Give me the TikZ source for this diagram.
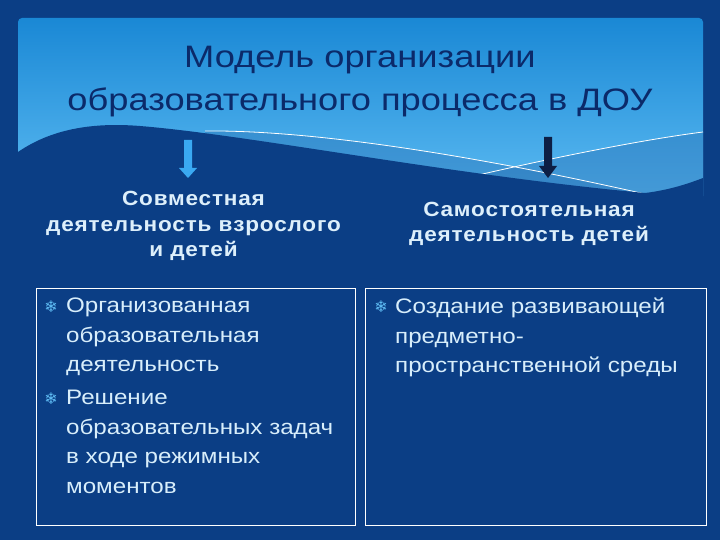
\documentclass[tikz,border=0pt]{standalone}
\usepackage{fontspec}
\setmainfont{Liberation Sans}[FakeStretch=1.15]
\newfontfamily\titlef{Liberation Sans}[FakeStretch=1.17]
\newfontfamily\headf{Liberation Sans}[LetterSpace=4, FakeStretch=1.10]
\newfontfamily\symf{DejaVu Sans}
\definecolor{cBg}{HTML}{0B3E85}
\definecolor{cPanelTop}{HTML}{1A88D5}
\definecolor{cPanelBot}{HTML}{5CBBF2}
\definecolor{cMid}{HTML}{2A74B8}
\definecolor{cTitle}{HTML}{0B2A6A}
\definecolor{cHead}{HTML}{DDEFFB}
\definecolor{cBul}{HTML}{D8EEFB}
\definecolor{cSym}{HTML}{5FBDF5}
\definecolor{cArrL}{HTML}{3AA9F2}
\definecolor{cArrD}{HTML}{0D1F45}
\begin{document}
\begin{tikzpicture}[x=1pt,y=-1pt,
  titletext/.style={text=cTitle, font=\titlef\fontsize{31}{43}\selectfont, align=center, inner sep=0},
  headtext/.style={text=cHead, font=\headf\bfseries\fontsize{20.5}{25.5}\selectfont, align=center, inner sep=0},
  bultext/.style={text=cBul, font=\fontsize{21}{29.5}\selectfont, align=left, inner sep=0, anchor=north west},
  bulsym/.style={text=cSym, font=\symf\fontsize{16}{16}\selectfont, inner sep=0},
  colbox/.style={draw=white, line width=1.2pt, anchor=north west, inner sep=0, fill=none},
  wavefill/.style={fill=cMid, fill opacity=0.45},
  waveline/.style={draw=white, line width=0.8pt},
  blockarrow/.style={draw=none}]
\useasboundingbox (0,0) rectangle (720,540);
\fill[cBg] (0,0) rectangle (720,540);
% top panel
\shade[top color=cPanelTop, bottom color=cPanelBot, rounded corners=4pt] (18,18) rectangle (703,200);
\begin{scope}
\clip (18,18) rectangle (703,200);
\fill[wavefill] (205,131) .. controls (300,130) and (450,150) .. (645,194) -- (645,200) -- (205,200) -- cycle;
\fill[wavefill] (440,184) .. controls (540,160) and (640,140) .. (703,132) -- (703,200) -- (440,200) -- cycle;
\draw[waveline] (205,131) .. controls (300,130) and (450,150) .. (645,194);
\draw[waveline] (440,184) .. controls (540,160) and (640,140) .. (703,132);
\fill[cBg] (0,152) -- (18,152) .. controls (50,130) and (90,122) .. (140,126) .. controls (250,135) and (450,175) .. (645,193) .. controls (670,190) and (690,183) .. (703,178) -- (720,178) -- (720,210) -- (0,210) -- cycle;
\end{scope}
% title
\node[titletext] (title) at (360,82) {Модель организации\\образовательного процесса в ДОУ};
% arrows
\fill[cArrL, blockarrow] (184,140) -- (192,140) -- (192,168) -- (197,168) -- (188,178) -- (179,168) -- (184,168) -- cycle;
\fill[cArrD, blockarrow] (544,137) -- (552,137) -- (552,166) -- (557,166) -- (548,178) -- (539,166) -- (544,166) -- cycle;
% headings
\node[headtext] (h1) at (193.5,226) {Совместная\\деятельность взрослого\\и детей};
\node[headtext] (h2) at (529,224) {Самостоятельная\\деятельность детей};
% boxes
\node[colbox, minimum width=319pt, minimum height=237pt] (b1) at (36,288) {};
\node[colbox, minimum width=341pt, minimum height=237pt] (b2) at (365,288) {};
% bullets
\node[bulsym] (s1) at (51,307) {❄};
\node[bultext] (t1) at (66,298) {Организованная\\образовательная\\деятельность};
\node[bulsym] (s2) at (51,399) {❄};
\node[bultext] (t2) at (66,390) {Решение\\образовательных задач\\в ходе режимных\\моментов};
\node[bulsym] (s3) at (381,307) {❄};
\node[bultext] (t3) at (395,298) {Создание развивающей\\предметно-\\пространственной среды};
\end{tikzpicture}
\end{document}
